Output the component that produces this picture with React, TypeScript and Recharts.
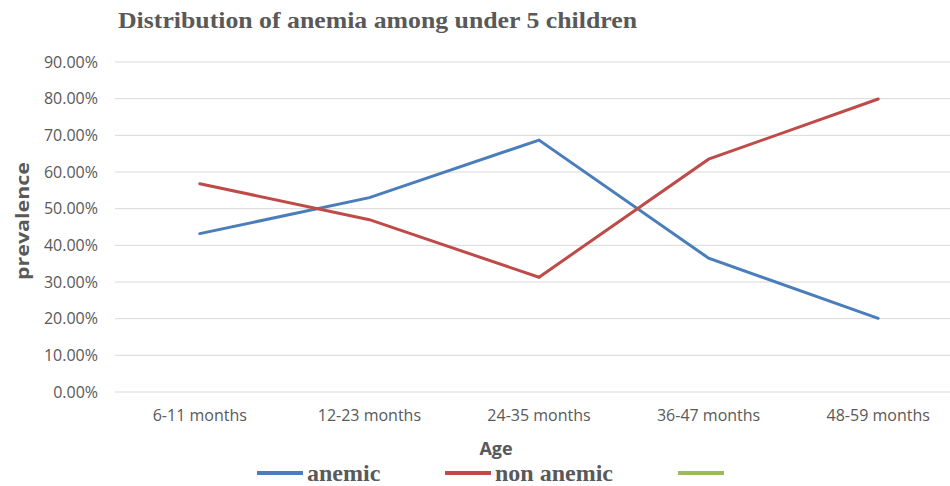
import React from 'react';
import { LineChart, Line, XAxis, YAxis, CartesianGrid } from 'recharts';

const ageGroups = ['6-11 months', '12-23 months', '24-35 months', '36-47 months', '48-59 months'];
const anemic = [43.2, 53.0, 68.7, 36.5, 20.1];
const nonAnemic = [56.8, 47.0, 31.3, 63.5, 79.9];
const yTicks = [0, 10, 20, 30, 40, 50, 60, 70, 80, 90];

const legendItems = [
  { label: 'anemic', color: '#4A7EBB' },
  { label: 'non anemic', color: '#BE4B48' },
  { label: '', color: '#9BBB59' },
];

const data = ageGroups.map((age, i) => ({ age, anemic: anemic[i], nonAnemic: nonAnemic[i] }));

const textGray = '#595959';
const sans = '"Open Sans", Roboto, sans-serif';
const serif = '"Liberation Serif", "DejaVu Serif", serif';

const renderYLabel = (props: any) => {
  const vb = props.viewBox || {};
  const cy = (vb.y || 62) + (vb.height || 330) / 2 - 6;
  return (
    <text
      x={22}
      y={cy}
      transform={`rotate(-90, 22, ${cy})`}
      textAnchor="middle"
      dominantBaseline="central"
      fontFamily={sans}
      fontWeight={700}
      fontSize={18}
      fill={textGray}
      textLength={118}
      lengthAdjust="spacingAndGlyphs"
    >
      prevalence
    </text>
  );
};

const renderXLabel = () => (
  <text x={496} y={455} textAnchor="middle" fontFamily={sans} fontWeight={700} fontSize={18} fill={textGray}>
    Age
  </text>
);

const legendX = [257, 445, 678];

export default function App() {
  return (
    <div style={{ position: 'absolute', left: 0, top: 0, width: 950, height: 486, overflow: 'hidden', background: '#fff' }}>
      <LineChart width={965} height={486} data={data} margin={{ top: 62, right: 2, left: 0, bottom: 0 }}>
        <CartesianGrid vertical={false} stroke="#D9D9D9" strokeWidth={1} />
        <XAxis
          dataKey="age"
          scale="band"
          height={94}
          axisLine={false}
          tickLine={false}
          tickMargin={12}
          interval={0}
          tick={{ fill: textGray, fontSize: 16, fontFamily: sans }}
          label={{ content: renderXLabel }}
        />
        <YAxis
          width={115}
          domain={[0, 90]}
          ticks={yTicks}
          interval={0}
          axisLine={false}
          tickLine={false}
          tickMargin={11}
          tickFormatter={(v: number) => `${v.toFixed(2)}%`}
          tick={{ fill: textGray, fontSize: 16, fontFamily: sans }}
          label={{ content: renderYLabel }}
        />
        <Line
          type="linear"
          dataKey="anemic"
          name="anemic"
          stroke={legendItems[0].color}
          strokeWidth={3}
          strokeLinecap="round"
          dot={false}
          activeDot={false}
          isAnimationActive={false}
        />
        <Line
          type="linear"
          dataKey="nonAnemic"
          name="non anemic"
          stroke={legendItems[1].color}
          strokeWidth={3}
          strokeLinecap="round"
          dot={false}
          activeDot={false}
          isAnimationActive={false}
        />
      </LineChart>
      <svg width={950} height={486} style={{ position: 'absolute', left: 0, top: 0, pointerEvents: 'none' }}>
        <text
          x={118}
          y={28}
          fontFamily={serif}
          fontWeight={700}
          fontSize={23}
          fill={textGray}
          textLength={519}
          lengthAdjust="spacingAndGlyphs"
        >
          Distribution of anemia among under 5 children
        </text>
        {legendItems.map((item, i) => (
          <g key={i}>
            <line x1={legendX[i]} x2={legendX[i] + 46} y1={473} y2={473} stroke={item.color} strokeWidth={4} />
            {item.label ? (
              <text x={legendX[i] + 50} y={481} fontFamily={serif} fontWeight={700} fontSize={24} fill={textGray}>
                {item.label}
              </text>
            ) : null}
          </g>
        ))}
      </svg>
    </div>
  );
}
